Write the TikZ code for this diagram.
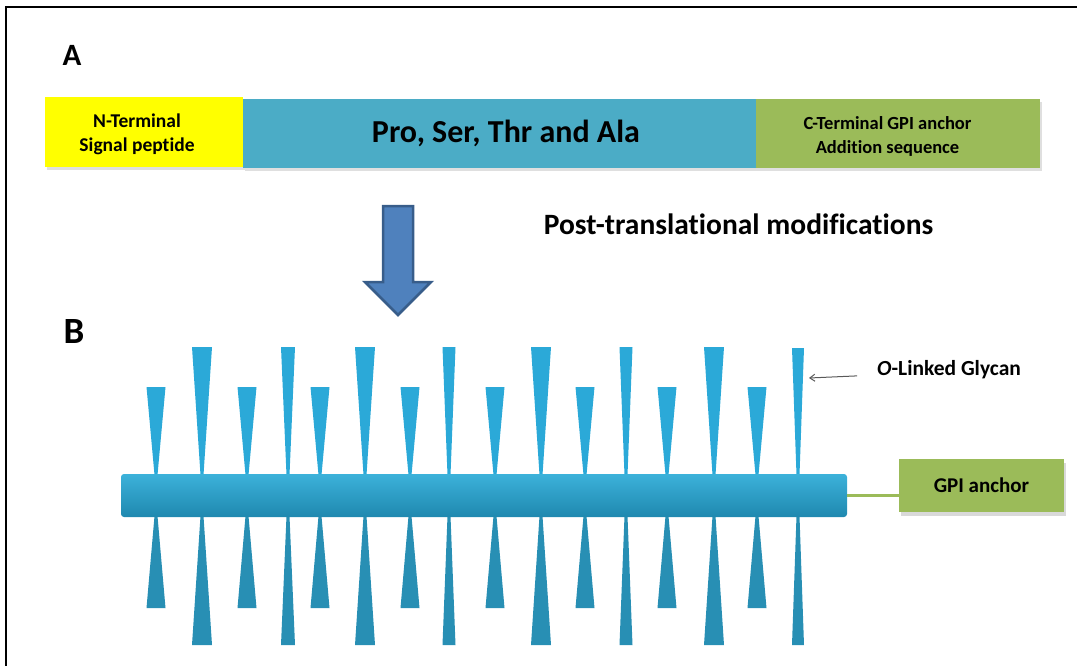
\documentclass[tikz,border=0pt]{standalone}
\usepackage{fontspec}
\setmainfont{Carlito}[Ligatures=NoCommon]
\usetikzlibrary{arrows.meta,shadows}

\definecolor{sigyellow}{HTML}{FFFF00}
\definecolor{midblue}{HTML}{4BACC6}
\definecolor{anchgreen}{HTML}{9BBB59}
\definecolor{arrfill}{HTML}{4F81BD}
\definecolor{arrline}{HTML}{385D8A}
\definecolor{spiketop}{HTML}{2BA9D8}
\definecolor{spikebot}{HTML}{288FB4}
\definecolor{rodtop}{HTML}{3CB2DA}
\definecolor{rodbot}{HTML}{1F88AF}

\tikzset{
  segbox/.style={inner sep=0pt, draw=none,
    drop shadow={shadow xshift=1.5pt, shadow yshift=-3pt, opacity=0.25}},
  boxtext/.style={font=\fontsize{19.5}{24}\selectfont\bfseries, align=center, inner sep=0pt},
  rod/.style={minimum width=726pt, minimum height=43pt, inner sep=0pt,
    rounded corners=3pt, top color=rodtop, bottom color=rodbot, draw=none},
  gpibox/.style={fill=anchgreen, minimum width=165pt, minimum height=53pt, inner sep=0pt,
    font=\fontsize{21}{24}\selectfont\bfseries,
    drop shadow={shadow xshift=2pt, shadow yshift=-4pt, opacity=0.3}},
  panel/.style={font=\fontsize{31}{36}\selectfont\bfseries, inner sep=0pt}
}

\begin{document}
\begin{tikzpicture}[x=1pt,y=-1pt]
\useasboundingbox (0,0) rectangle (1077,665);
% frame
\draw [line width=2pt] (1077,7) -- (6,7) -- (6,670);%

% Marking panel A
\node [panel] (pa) at (72,55) {A};%

% Drawing precursor bar
\node [segbox, fill=sigyellow, minimum width=198pt, minimum height=70pt] (nterm) at (144,132) {};%
\node [segbox, fill=midblue, minimum width=513pt, minimum height=69pt] (core) at (499.5,133.5) {};%
\node [segbox, fill=anchgreen, minimum width=284pt, minimum height=69pt] (cterm) at (898,133.5) {};%
\node [boxtext] (ntermtxt) at (137,134) {N-Terminal\\Signal peptide};%
\node [boxtext, font=\fontsize{32}{36}\selectfont\bfseries] (coretxt) at (506,133) {Pro, Ser, Thr and Ala};%
\node [boxtext, font=\fontsize{18.5}{24}\selectfont\bfseries] (ctermtxt) at (887.5,136) {C-Terminal GPI anchor\\Addition sequence};%

% Marking modifications
\node [font=\fontsize{29.5}{34}\selectfont\bfseries, inner sep=0pt] (ptm) at (738.5,224) {Post-translational modifications};%

% Drawing block arrow
\draw [fill=arrfill, draw=arrline, line width=2.5pt, line join=miter]
  (383,206) -- (413,206) -- (413,282) -- (431,282) -- (398,315) -- (365,282) -- (383,282) -- cycle;%

% Marking panel B
\node [panel, font=\fontsize{37}{40}\selectfont\bfseries] (pb) at (74,331) {B};%

% Drawing glycan spikes
\foreach \sx/\sw/\stop/\sbot in {156/19/387/608, 202/20/347/645, 247/19/387/608, 288/14/347/645,
    320/19/387/608, 365/20/347/645, 410/19/387/608, 449/13/347/645,
    495/19/387/608, 541/20/347/645, 585/19/387/608, 626/13/347/645,
    667/19/387/608, 714/20/347/645, 757/19/387/608, 798/12/348/645}{
  \fill [spiketop] (\sx-\sw/2,\stop) -- (\sx+\sw/2,\stop) -- (\sx+1.5,475) -- (\sx-1.5,475) -- cycle;
  \fill [spikebot] (\sx-1.5,516) -- (\sx+1.5,516) -- (\sx+\sw/2,\sbot) -- (\sx-\sw/2,\sbot) -- cycle;
}

% Drawing protein rod
\node [rod] (rod) at (484,495.5) {};%

% Drawing GPI anchor
\node [gpibox] (gpi) at (981.5,485.5) {GPI anchor};%
\draw [anchgreen, line width=3pt] (rod.east) -- (rod.east -| gpi.west);%

% Marking glycan label
\node [font=\fontsize{21.5}{24}\selectfont\bfseries, inner sep=0pt, anchor=west] (glyc) at (877,370) {\textit{O}-Linked Glycan};%
\coordinate (gtip) at (809,378);
\draw [gray!70!black, line width=1pt, -{Straight Barb[length=5pt,width=7pt]}, shorten <=20pt] ([yshift=-5pt]glyc.west) -- (gtip);%
\end{tikzpicture}
\end{document}
